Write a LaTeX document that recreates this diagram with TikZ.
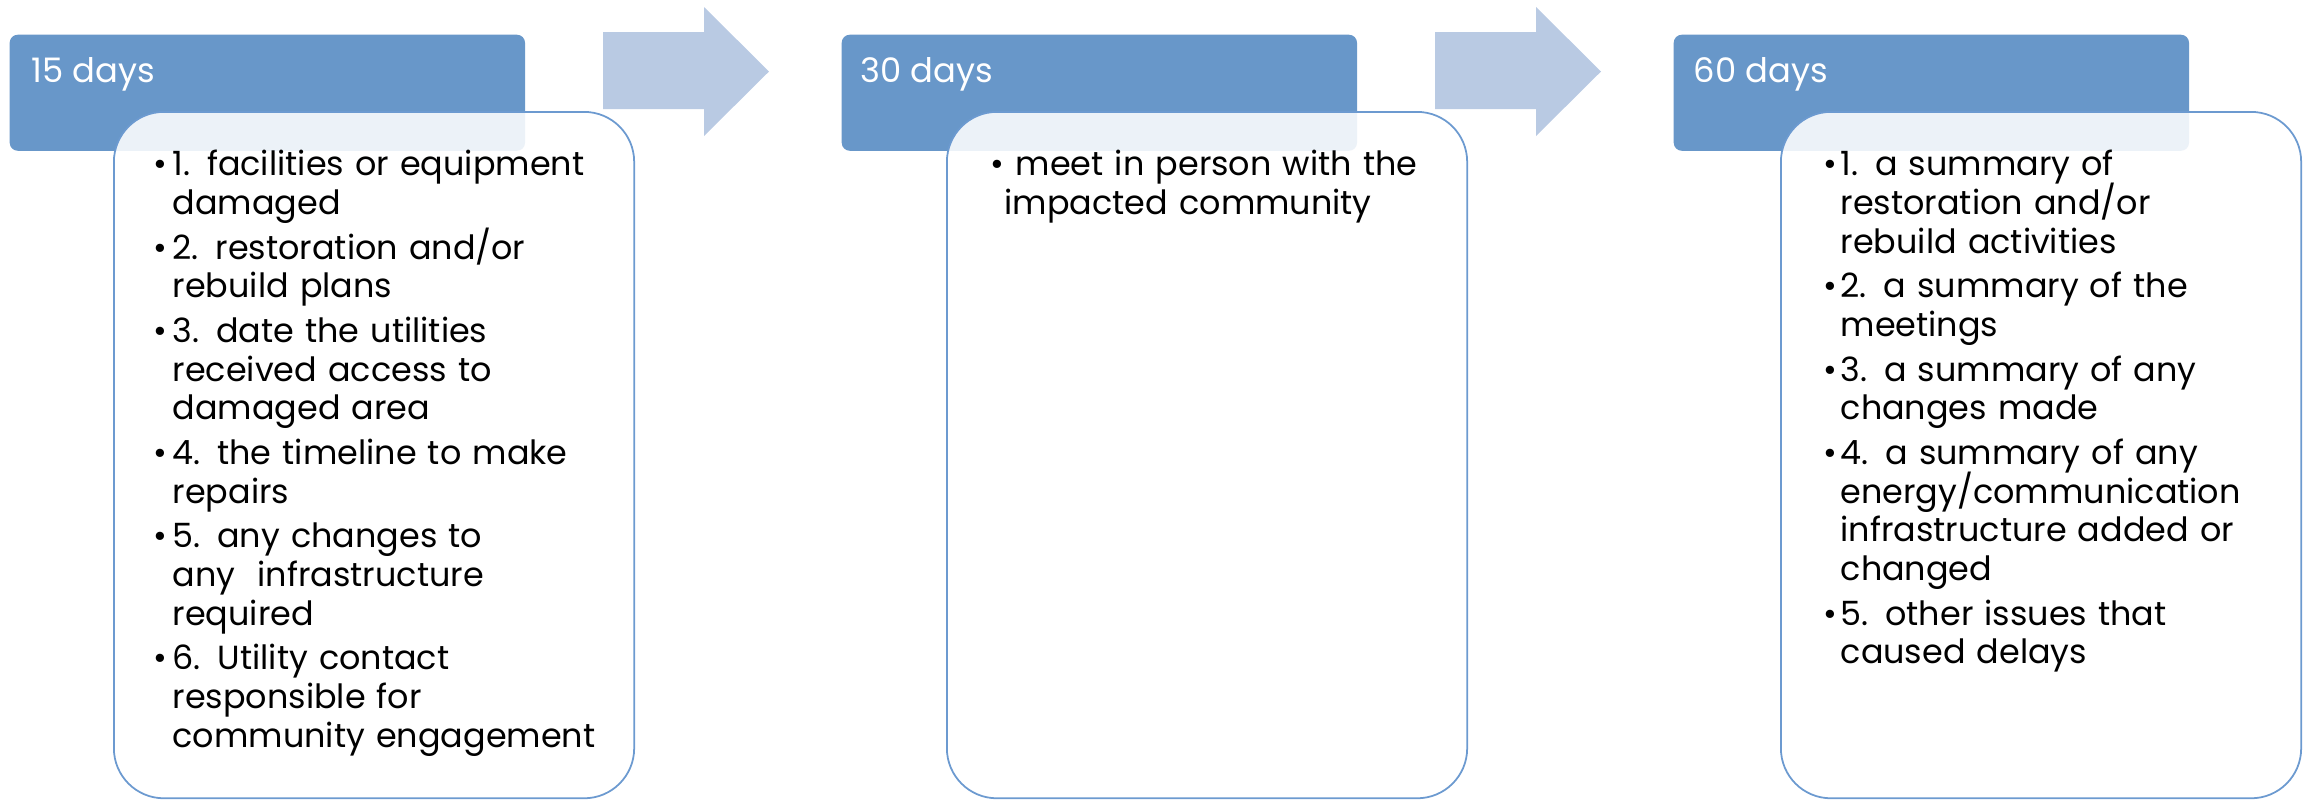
\documentclass[tikz,border=0pt]{standalone}
\usepackage{fontspec}
\setmainfont{Poppins}
\usepackage{tikz}
\usetikzlibrary{positioning,calc}
\definecolor{headblue}{RGB}{104,151,201}
\definecolor{arrowblue}{RGB}{185,202,227}
\definecolor{lineblue}{RGB}{108,154,208}
\newlength{\hangw}
\newcommand{\itm}[1]{\hangindent=\hangw\hangafter=1\noindent\makebox[\hangw][l]{\textbullet}#1\par}
\newcommand{\listsetup}[1]{\setlength{\parskip}{1.7pt}\setlength{\hangw}{#1}%
    \lineskiplimit=-20pt\hyphenpenalty=10000}
\tikzset{
    headbox/.style={
        rectangle,
        rounded corners=0.08cm,
        fill=headblue,
        minimum width=5.15cm,
        minimum height=1.16cm,
        anchor=north west
    },
    % white card on top of the header, slightly see-through
    listbox/.style={
        rectangle,
        rounded corners=0.5cm,
        fill=white,
        fill opacity=0.88,
        draw=lineblue,
        line width=0.5pt,
        minimum width=5.2cm,
        minimum height=6.86cm,
        anchor=north west
    },
    headtext/.style={
        white,
        anchor=base west,
        inner sep=0pt,
        font=\fontsize{9.6}{12}\selectfont
    },
    listtext/.style={
        anchor=north west,
        inner sep=0pt,
        yshift=9pt,
        text width=4.75cm,
        align=left,
        font=\fontsize{9.5}{11}\selectfont
    }
}

\begin{document}
\begin{tikzpicture}[x=0.01cm,y=-0.01cm]
    \useasboundingbox (0,0) rectangle (2305,799);
    \node[headbox] (h1) at (9,34) {};
    \node[headbox] (h2) at (841,34) {};
    \node[headbox] (h3) at (1673,34) {};
    \node[listbox] (b1) at (113,111) {};
    \node[listbox] (b2) at (946,111) {};
    \node[listbox] (b3) at (1780,111) {};
    \fill[arrowblue] (603,32) -- (704,32) -- (704,7) -- (769,71.5)
        -- (704,136) -- (704,109) -- (603,109) -- cycle;
    \fill[arrowblue] (1435,32) -- (1536,32) -- (1536,7) -- (1601,71.5)
        -- (1536,136) -- (1536,109) -- (1435,109) -- cycle;

    \node[headtext] (d1) at (31,82) {15 days};
    \node[headtext] (d2) at (860,82) {30 days};
    \node[headtext] (d3) at (1693,82) {60 days};

    \node[listtext] (l1) at (153,175) {\listsetup{0.19cm}%
        \itm{\rule{0pt}{9pt}1. facilities or equipment\newline damaged}
        \itm{2. restoration and/or\newline rebuild plans}
        \itm{3. date the utilities\newline received access to\newline damaged area}
        \itm{4. the timeline to make\newline repairs}
        \itm{5. any changes to\newline any\ \ infrastructure\newline required}
        \itm{6. Utility contact\newline responsible for\newline community engagement}};
    \node[listtext] (l2) at (990,175) {\listsetup{0.14cm}%
        \itm{\rule{0pt}{9pt}\ meet in person with the\newline impacted community}};
    \node[listtext] (l3) at (1823,175) {\listsetup{0.17cm}%
        \itm{\rule{0pt}{9pt}1. a summary of\newline restoration and/or\newline rebuild activities}
        \itm{2. a summary of the\newline meetings}
        \itm{3. a summary of any\newline changes made}
        \itm{4. a summary of any\newline energy/communication\newline infrastructure added or\newline changed}
        \itm{5. other issues that\newline caused delays}};
\end{tikzpicture}
\end{document}
